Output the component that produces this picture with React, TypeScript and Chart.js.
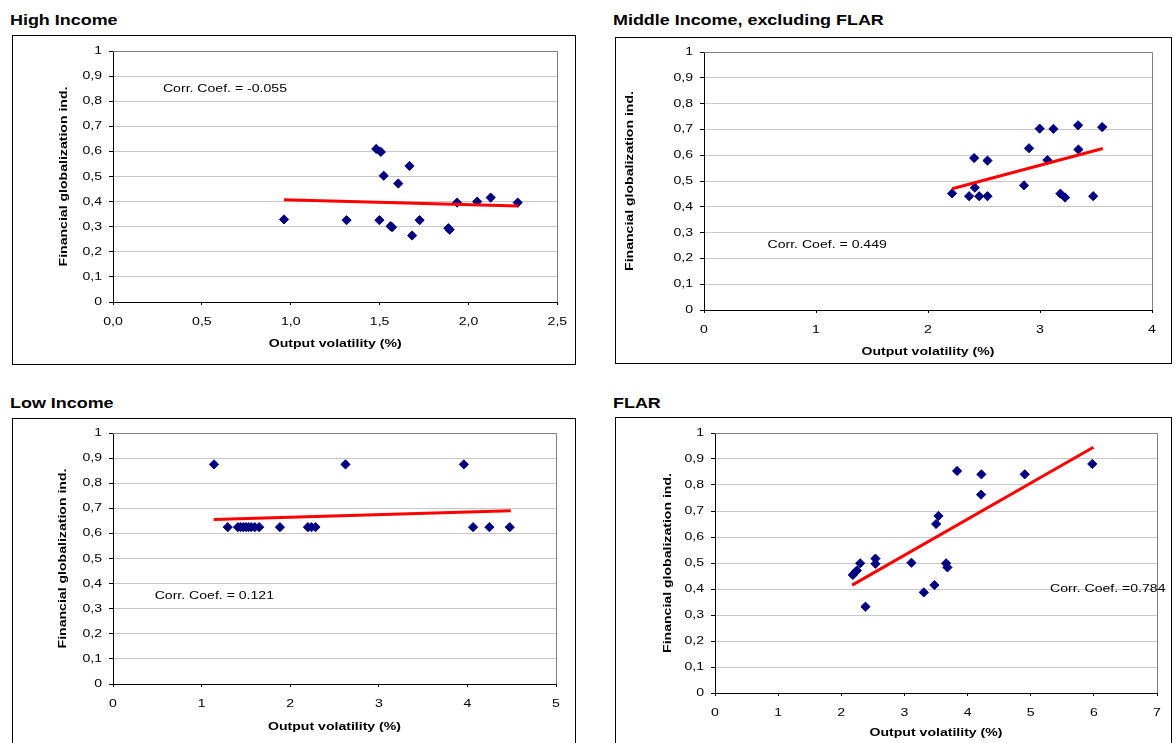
import React, { useEffect, useRef } from 'react';
import { Chart, registerables } from 'chart.js';

Chart.register(...registerables);

const FONT = "'Liberation Sans', Arial, Helvetica, sans-serif";
const SX = 1.28; // horizontal text stretch seen in the reference

// ---------- tick labels ----------
const yTickLabels = ['0', '0,1', '0,2', '0,3', '0,4', '0,5', '0,6', '0,7', '0,8', '0,9', '1'];
const highXTickLabels = ['0,0', '0,5', '1,0', '1,5', '2,0', '2,5'];
const middleXTickLabels = ['0', '1', '2', '3', '4'];
const lowXTickLabels = ['0', '1', '2', '3', '4', '5'];
const flarXTickLabels = ['0', '1', '2', '3', '4', '5', '6', '7'];

// ---------- High Income ----------
const highX = [0.962, 1.314, 1.481, 1.507, 1.523, 1.605, 1.668, 1.499, 1.562, 1.57, 1.683, 1.725, 1.887, 1.894, 1.936, 2.049, 2.125, 2.277];
const highY = [0.329, 0.326, 0.61, 0.598, 0.503, 0.472, 0.542, 0.326, 0.302, 0.298, 0.265, 0.326, 0.294, 0.288, 0.396, 0.4, 0.416, 0.396];
const highTrendX = [0.962, 2.28];
const highTrendY = [0.407, 0.382];

// ---------- Middle Income, excluding FLAR ----------
const middleX = [2.215, 2.367, 2.457, 2.531, 2.412, 2.531, 2.418, 2.857, 2.902, 2.997, 3.12, 3.066, 3.182, 3.224, 3.34, 3.343, 3.555, 3.475];
const middleY = [0.452, 0.441, 0.441, 0.441, 0.589, 0.579, 0.474, 0.483, 0.627, 0.703, 0.702, 0.581, 0.451, 0.436, 0.716, 0.622, 0.709, 0.441];
const middleTrendX = [2.215, 3.561];
const middleTrendY = [0.47, 0.626];

// ---------- Low Income ----------
const lowX = [1.14, 2.624, 3.96, 1.295, 1.41, 1.44, 1.47, 1.5, 1.53, 1.56, 1.6, 1.65, 1.884, 2.2, 2.24, 2.285, 4.064, 4.248, 4.478];
const lowY = [0.875, 0.875, 0.875, 0.625, 0.625, 0.625, 0.625, 0.625, 0.625, 0.625, 0.625, 0.625, 0.625, 0.625, 0.625, 0.625, 0.625, 0.625, 0.625];
const lowTrendX = [1.137, 4.49];
const lowTrendY = [0.655, 0.69];

// ---------- FLAR ----------
const flarX = [2.183, 2.215, 2.246, 2.299, 2.383, 2.541, 2.541, 3.111, 3.307, 3.475, 3.502, 3.539, 3.66, 3.681, 3.834, 4.219, 4.214, 4.905, 5.975];
const flarY = [0.454, 0.463, 0.471, 0.499, 0.332, 0.517, 0.497, 0.501, 0.387, 0.415, 0.65, 0.681, 0.499, 0.483, 0.854, 0.841, 0.763, 0.841, 0.881];
const flarTrendX = [2.172, 5.993];
const flarTrendY = [0.415, 0.945];

const xAxisTitle = 'Output volatility (%)';
const yAxisTitle = 'Financial globalization ind.';

type PanelCfg = {
  title: string;
  titleLeft: number;
  titleTop: number;
  box: { left: number; top: number; width: number; height: number };
  canvas: { left: number; top: number; width: number; height: number };
  yW: number;
  padTop: number;
  padRight: number;
  xH: number;
  xTitlePad: number;
  yTitlePad: number;
  xMax: number;
  xStep: number;
  xLabels: string[];
  xs: number[];
  ys: number[];
  trendX: number[];
  trendY: number[];
  corr: { text: string; x: number; y: number };
};

const panels: PanelCfg[] = [
  {
    title: 'High Income', titleLeft: 10, titleTop: 13,
    box: { left: 12, top: 35, width: 564, height: 330 },
    canvas: { left: 12, top: 35, width: 563, height: 329 },
    yW: 101, padTop: 16, padRight: 12, xH: 62, xTitlePad: 13.4, yTitlePad: 45.4,
    xMax: 2.5, xStep: 0.5, xLabels: highXTickLabels,
    xs: highX, ys: highY, trendX: highTrendX, trendY: highTrendY,
    corr: { text: 'Corr. Coef. = -0.055', x: 0.281, y: 0.85 },
  },
  {
    title: 'Middle Income, excluding FLAR', titleLeft: 613, titleTop: 13,
    box: { left: 615, top: 37, width: 557, height: 327 },
    canvas: { left: 615, top: 37, width: 556, height: 326 },
    yW: 89, padTop: 15, padRight: 19, xH: 53, xTitlePad: 4.9, yTitlePad: 8.4,
    xMax: 4, xStep: 1, xLabels: middleXTickLabels,
    xs: middleX, ys: middleY, trendX: middleTrendX, trendY: middleTrendY,
    corr: { text: 'Corr. Coef. = 0.449', x: 0.567, y: 0.251 },
  },
  {
    title: 'Low Income', titleLeft: 10, titleTop: 395.5,
    box: { left: 12, top: 418, width: 564, height: 400 },
    canvas: { left: 12, top: 418, width: 563, height: 325 },
    yW: 101, padTop: 15, padRight: 19, xH: 59, xTitlePad: 9.6, yTitlePad: 44.4,
    xMax: 5, xStep: 1, xLabels: lowXTickLabels,
    xs: lowX, ys: lowY, trendX: lowTrendX, trendY: lowTrendY,
    corr: { text: 'Corr. Coef. = 0.121', x: 0.47, y: 0.351 },
  },
  {
    title: 'FLAR', titleLeft: 613, titleTop: 395.5,
    box: { left: 615, top: 417, width: 557, height: 400 },
    canvas: { left: 615, top: 417, width: 556, height: 326 },
    yW: 100, padTop: 16, padRight: 14, xH: 50, xTitlePad: 3.4, yTitlePad: 45.9,
    xMax: 7, xStep: 1, xLabels: flarXTickLabels,
    xs: flarX, ys: flarY, trendX: flarTrendX, trendY: flarTrendY,
    corr: { text: 'Corr. Coef. =0.784', x: 5.306, y: 0.401 },
  },
];

const decorPlugin = {
  id: 'panelDecor',
  beforeDatasetsDraw(chart: any) {
    const { ctx, chartArea: a } = chart;
    ctx.save();
    ctx.strokeStyle = '#808080';
    ctx.lineWidth = 1;
    ctx.beginPath();
    ctx.moveTo(a.left, Math.round(a.top) + 0.5);
    ctx.lineTo(Math.round(a.right) + 0.5, Math.round(a.top) + 0.5);
    ctx.lineTo(Math.round(a.right) + 0.5, a.bottom);
    ctx.stroke();
    ctx.restore();
  },
  afterDatasetsDraw(chart: any, _args: any, opts: any) {
    const { ctx, scales } = chart;
    if (!opts || !opts.text) return;
    ctx.save();
    ctx.font = `11px ${FONT}`;
    ctx.fillStyle = '#000';
    ctx.textAlign = 'left';
    ctx.textBaseline = 'middle';
    ctx.fillText(opts.text, scales.x.getPixelForValue(opts.x), scales.y.getPixelForValue(opts.y));
    ctx.restore();
  },
};

function Panel({ cfg }: { cfg: PanelCfg }) {
  const ref = useRef<HTMLCanvasElement | null>(null);
  useEffect(() => {
    const canvas = ref.current;
    if (!canvas) return;
    const ctx: any = canvas.getContext('2d');
    if (!ctx.__stretched) {
      const orig = ctx.fillText.bind(ctx);
      ctx.fillText = (text: string, x: number, y: number) => {
        ctx.save();
        ctx.translate(x, y);
        ctx.scale(SX, 1);
        orig(text, 0, 0);
        ctx.restore();
      };
      ctx.__stretched = true;
    }
    const points = cfg.xs.map((x, i) => ({ x, y: cfg.ys[i] }));
    const trend = cfg.trendX.map((x, i) => ({ x, y: cfg.trendY[i] }));
    const tickFont = { family: FONT, size: 11 };
    const titleFont = { family: FONT, size: 11, weight: 'bold' as const };
    const chart = new Chart(canvas, {
      type: 'scatter',
      data: {
        datasets: [
          {
            type: 'line',
            data: trend,
            borderColor: '#ff0000',
            borderWidth: 3,
            pointRadius: 0,
            showLine: true,
            fill: false,
            order: 0,
          } as any,
          {
            type: 'scatter',
            data: points,
            pointStyle: 'rectRot',
            pointRadius: 4.6,
            pointBorderWidth: 1,
            backgroundColor: '#000080',
            borderColor: '#000080',
            order: 1,
          } as any,
        ],
      },
      options: {
        animation: false,
        responsive: false,
        maintainAspectRatio: false,
        devicePixelRatio: 1,
        layout: {
          autoPadding: false,
          padding: { left: 0, top: cfg.padTop, right: cfg.padRight, bottom: 0 },
        },
        plugins: {
          legend: { display: false },
          tooltip: { enabled: false },
          panelDecor: cfg.corr,
        } as any,
        scales: {
          x: {
            type: 'linear',
            min: 0,
            max: cfg.xMax,
            ticks: {
              stepSize: cfg.xStep,
              autoSkip: false,
              maxRotation: 0,
              padding: 10,
              color: '#000',
              font: tickFont,
              callback: (_v: any, i: number) => cfg.xLabels[i],
            },
            grid: { drawOnChartArea: false, drawTicks: true, tickLength: 3, tickColor: '#000' },
            border: { display: true, color: '#000', width: 1 },
            title: {
              display: true,
              text: xAxisTitle,
              color: '#000',
              font: titleFont,
              padding: { top: 0, bottom: cfg.xTitlePad },
            },
            afterFit: (s: any) => {
              s.height = cfg.xH;
            },
          },
          y: {
            type: 'linear',
            min: 0,
            max: 1,
            ticks: {
              stepSize: 0.1,
              autoSkip: false,
              padding: 7,
              color: '#000',
              font: tickFont,
              callback: (_v: any, i: number) => yTickLabels[i],
            },
            grid: { color: '#c8c8c8', lineWidth: 1, drawTicks: true, tickLength: 4, tickColor: '#000' },
            border: { display: true, color: '#000', width: 1 },
            title: {
              display: true,
              text: yAxisTitle,
              color: '#000',
              font: titleFont,
              padding: { top: cfg.yTitlePad, bottom: 0 },
            },
            afterFit: (s: any) => {
              s.width = cfg.yW;
            },
          },
        },
      } as any,
      plugins: [decorPlugin as any],
    });
    return () => chart.destroy();
  }, [cfg]);

  return (
    <>
      <div
        style={{
          position: 'absolute',
          left: cfg.titleLeft,
          top: cfg.titleTop,
          font: `bold 14px/14px ${FONT}`,
          color: '#000',
          whiteSpace: 'nowrap',
          transform: `scaleX(${SX})`,
          transformOrigin: 'left top',
        }}
      >
        {cfg.title}
      </div>
      <div
        style={{
          position: 'absolute',
          left: cfg.box.left,
          top: cfg.box.top,
          width: cfg.box.width,
          height: cfg.box.height,
          border: '1px solid #000',
          boxSizing: 'border-box',
          background: '#fff',
        }}
      />
      <canvas
        ref={ref}
        width={cfg.canvas.width}
        height={cfg.canvas.height}
        style={{
          position: 'absolute',
          left: cfg.canvas.left,
          top: cfg.canvas.top,
          width: cfg.canvas.width,
          height: cfg.canvas.height,
        }}
      />
    </>
  );
}

export default function App() {
  return (
    <div
      style={{
        position: 'absolute',
        left: 0,
        top: 0,
        width: 1176,
        height: 743,
        overflow: 'hidden',
        background: '#fff',
      }}
    >
      {panels.map((p) => (
        <Panel key={p.title} cfg={p} />
      ))}
    </div>
  );
}
